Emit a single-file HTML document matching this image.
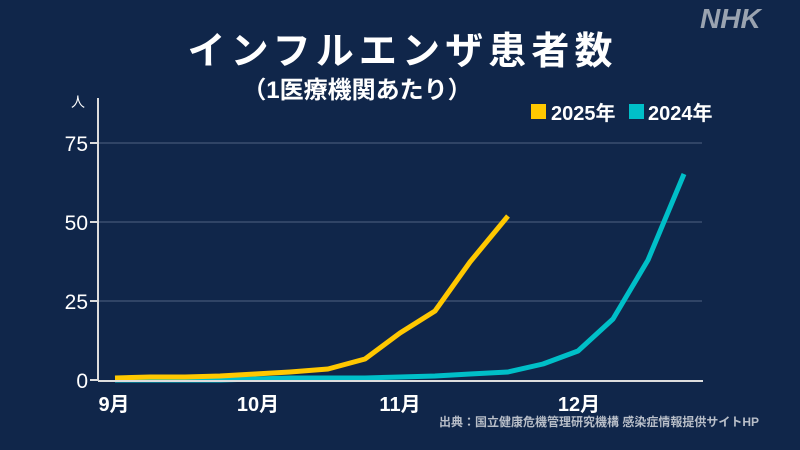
<!DOCTYPE html><html><head><meta charset="utf-8"><style>
body{margin:0;width:800px;height:450px;background:#10264a;overflow:hidden;font-family:"Liberation Sans","Noto Sans CJK JP",sans-serif;color:#fff}
</style></head><body>
<svg width="800" height="450" xmlns="http://www.w3.org/2000/svg" style="position:absolute;left:0;top:0">
<rect width="800" height="450" fill="#10264a"/>
<text x="700" y="28" font-size="28" font-weight="bold" font-style="italic" fill="#9aa3b0" font-family="Liberation Sans,sans-serif">NHK</text>
<text x="400" y="64" text-anchor="middle" font-size="38" font-weight="bold" fill="#fff" font-family="Liberation Sans,Noto Sans CJK JP,sans-serif" textLength="425">インフルエンザ患者数</text>
<text x="357" y="98" text-anchor="middle" font-size="24" font-weight="bold" fill="#fff" font-family="Liberation Sans,Noto Sans CJK JP,sans-serif">（1医療機関あたり）</text>
<g stroke="#3a4f70" stroke-width="1.5">
<line x1="98" y1="143" x2="702" y2="143"/><line x1="98" y1="222" x2="702" y2="222"/><line x1="98" y1="301" x2="702" y2="301"/>
</g>
<line x1="98" y1="98" x2="98" y2="381" stroke="#ddd" stroke-width="2"/>
<g stroke="#ddd" stroke-width="2"><line x1="90" y1="143" x2="98" y2="143"/><line x1="90" y1="222" x2="98" y2="222"/><line x1="90" y1="301" x2="98" y2="301"/><line x1="90" y1="380" x2="98" y2="380"/></g>
<g font-size="21" fill="#fff" text-anchor="end" font-family="Liberation Sans,sans-serif">
<text x="88" y="151">75</text><text x="88" y="230">50</text><text x="88" y="309">25</text><text x="88" y="388">0</text></g>
<text x="78" y="107" font-size="14" fill="#fff" text-anchor="middle" font-family="Noto Sans CJK JP,sans-serif">人</text>
<g font-size="20" fill="#fff" text-anchor="middle" font-weight="bold" font-family="Liberation Sans,Noto Sans CJK JP,sans-serif">
<text x="114" y="411">9月</text><text x="258" y="411">10月</text><text x="400" y="411">11月</text><text x="579" y="411">12月</text></g>
<text x="759" y="426" text-anchor="end" font-size="12" font-weight="bold" fill="#b8bec8" font-family="Liberation Sans,Noto Sans CJK JP,sans-serif">出典：国立健康危機管理研究機構 感染症情報提供サイトHP</text>
<polyline fill="none" stroke="#00bfc8" stroke-width="5" stroke-linejoin="round" points="115,380 150,380 185,380 220,380 255,379 290,378 328,378 365,378 400,377 435,376 470,374 508,372 543,364 578,351 613,319 648,260 684,174"/>
<polyline fill="none" stroke="#ffc800" stroke-width="5" stroke-linejoin="round" points="115,378 150,377 185,377 220,376 255,374 290,372 328,369 365,359 400,333 435,311 470,262 508,216"/>
<line x1="98" y1="381" x2="703" y2="381" stroke="#ddd" stroke-width="2"/>
<rect x="531" y="104" width="15" height="15" fill="#ffc800"/>
<text x="551" y="120" font-size="20" fill="#fff" font-weight="bold" font-family="Liberation Sans,Noto Sans CJK JP,sans-serif">2025年</text>
<rect x="629" y="104" width="15" height="15" fill="#00bfc8"/>
<text x="648" y="120" font-size="20" fill="#fff" font-weight="bold" font-family="Liberation Sans,Noto Sans CJK JP,sans-serif">2024年</text>
</svg>
</body></html>
